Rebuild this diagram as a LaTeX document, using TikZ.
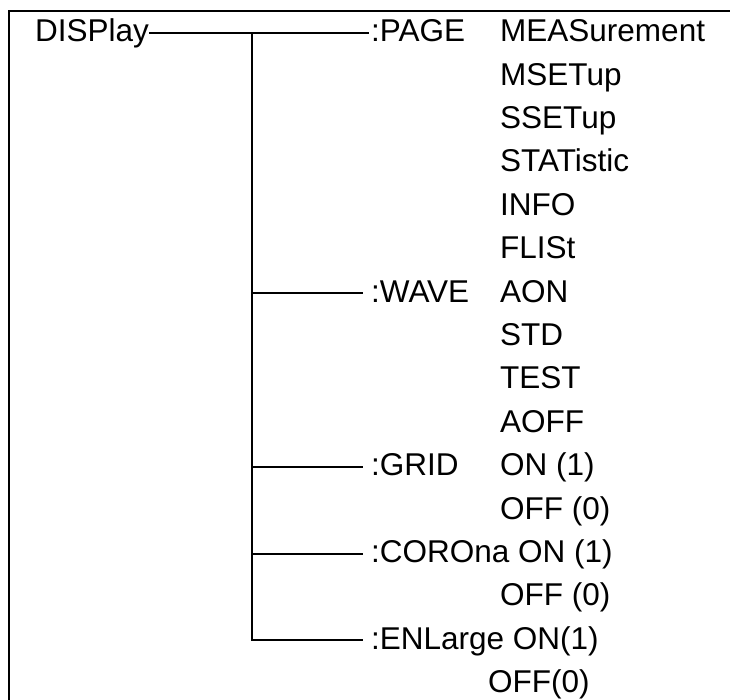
\documentclass[tikz,border=0pt]{standalone}
\usepackage{fontspec}
\setmainfont{Liberation Sans}

\begin{document}
\begin{tikzpicture}[
    x=1bp, y=-1bp,
    lbl/.style={anchor=base west, inner sep=0pt,
                font=\fontsize{31.5bp}{38bp}\selectfont},
    conn/.style={line width=2bp},
    frame/.style={line width=2bp},
    hook/.style={yshift=9bp, xshift=-8bp},
]
\useasboundingbox (0,0) rectangle (730,700);

% -- Frame ----------------------------------
\begin{scope}
\clip (0,0) rectangle (730,700);
\draw[frame] (9,11) rectangle (760,740);
\end{scope}

% -- Command and sub-commands ---------------
\node[lbl] (disp)    at (35,  41.7)  {DISPlay};
\node[lbl] (page)    at (371, 41.7)  {:PAGE};
\node[lbl] (wave)    at (371, 302.1) {:WAVE};
\node[lbl] (grid)    at (371, 475.7) {:GRID};
\node[lbl] (corona)  at (371, 562.5) {:COROna ON (1)};
\node[lbl] (enlarge) at (371, 649.3) {:ENLarge ON(1)};

% -- Parameter column -----------------------
\node[lbl] (meas)   at (500, 41.7)  {MEASurement};
\node[lbl] (mset)   at (500, 85.1)  {MSETup};
\node[lbl] (sset)   at (500, 128.5) {SSETup};
\node[lbl] (stat)   at (500, 171.9) {STATistic};
\node[lbl] (info)   at (500, 215.3) {INFO};
\node[lbl] (flist)  at (500, 258.7) {FLISt};
\node[lbl] (aon)    at (500, 302.1) {AON};
\node[lbl] (std)    at (500, 345.5) {STD};
\node[lbl] (test)   at (500, 388.9) {TEST};
\node[lbl] (aoff)   at (500, 432.3) {AOFF};
\node[lbl] (gon)    at (500, 475.7) {ON (1)};
\node[lbl] (goff)   at (500, 519.1) {OFF (0)};
\node[lbl] (coff)   at (500, 605.9) {OFF (0)};
\node[lbl] (eoff)   at (488, 692.7) {OFF(0)};

% -- Tree lines -----------------------------
\coordinate (trunk)   at (252, 32.7);
\coordinate (wavein)  at ([hook]wave.base west);
\coordinate (gridin)  at ([hook]grid.base west);
\coordinate (corin)   at ([hook]corona.base west);
\coordinate (enlin)   at ([hook]enlarge.base west);
\draw[conn] ([yshift=9bp]disp.base east)
    -- ([yshift=9bp, xshift=-2bp]page.base west);
\draw[conn] (trunk) |- (enlin);
\draw[conn] (trunk |- wavein) -- (wavein);
\draw[conn] (trunk |- gridin) -- (gridin);
\draw[conn] (trunk |- corin)  -- (corin);

\end{tikzpicture}
\end{document}
